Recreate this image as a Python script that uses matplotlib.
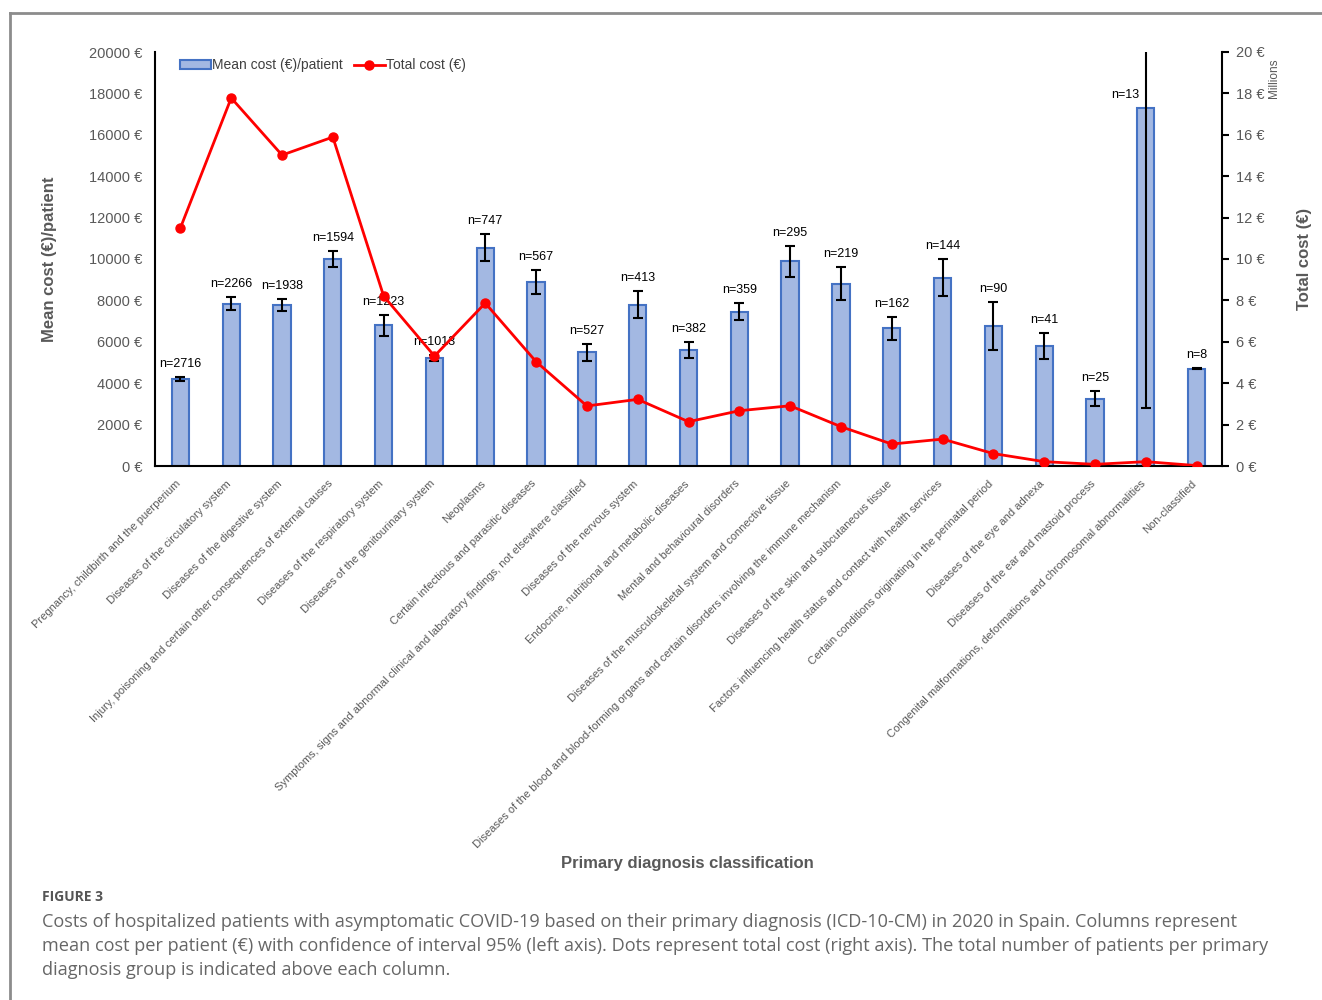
import matplotlib
matplotlib.use("Agg")
import matplotlib.pyplot as plt
import matplotlib.transforms as mtransforms
import numpy as np
from matplotlib.patches import Patch
from matplotlib.lines import Line2D

plt.rcParams['font.family'] = ['Liberation Sans', 'DejaVu Sans']

categories = [
    "Pregnancy, childbirth and the puerperium",
    "Diseases of the circulatory system",
    "Diseases of the digestive system",
    "Injury, poisoning and certain other consequences of external causes",
    "Diseases of the respiratory system",
    "Diseases of the genitourinary system",
    "Neoplasms",
    "Certain infectious and parasitic diseases",
    "Symptoms, signs and abnormal clinical and laboratory findings, not elsewhere classified",
    "Diseases of the nervous system",
    "Endocrine, nutritional and metabolic diseases",
    "Mental and behavioural disorders",
    "Diseases of the musculoskeletal system and connective tissue",
    "Diseases of the blood and blood-forming organs and certain disorders involving the immune mechanism",
    "Diseases of the skin and subcutaneous tissue",
    "Factors influencing health status and contact with health services",
    "Certain conditions originating in the perinatal period",
    "Diseases of the eye and adnexa",
    "Diseases of the ear and mastoid process",
    "Congenital malformations, deformations and chromosomal abnormalities",
    "Non-classified",
]
n_patients = [2716, 2266, 1938, 1594, 1223, 1013, 747, 567, 527, 413, 382,
              359, 295, 219, 162, 144, 90, 41, 25, 13, 8]
mean_cost = [4200, 7850, 7800, 10000, 6800, 5200, 10550, 8900, 5500, 7800, 5600,
             7450, 9900, 8800, 6650, 9100, 6750, 5800, 3250, 17300, 4700]
ci_half = [100, 300, 290, 380, 500, 150, 650, 570, 410, 660, 370,
           420, 750, 800, 550, 900, 1160, 630, 370, 14500, 20]
total_cost_millions = [11.5, 17.78, 15.02, 15.89, 8.21, 5.31, 7.87, 5.04, 2.90, 3.22, 2.14,
                       2.67, 2.91, 1.90, 1.06, 1.30, 0.60, 0.21, 0.08, 0.21, 0.02]
left_ticks = list(range(0, 20001, 2000))
right_ticks = list(range(0, 21, 2))

W, H = 1322, 1000
fig = plt.figure(figsize=(W / 100, H / 100), dpi=100)

# outer frame
fig.add_artist(Line2D([10 / W, 10 / W], [0, 1 - 13 / H], transform=fig.transFigure,
                      color='#8c8c8c', lw=2))
fig.add_artist(Line2D([10 / W, 1], [1 - 13 / H, 1 - 13 / H], transform=fig.transFigure,
                      color='#8c8c8c', lw=2))

AXW = 1222 - 155
ax = fig.add_axes([155 / W, 1 - 466 / H, AXW / W, (466 - 52) / H])
x = np.arange(len(categories))
bar_color = '#a3b8e2'
edge_color = '#4472c4'
ax.bar(x, mean_cost, width=0.34, color=bar_color, edgecolor=edge_color, linewidth=1.5, zorder=2)
ax.errorbar(x, mean_cost, yerr=ci_half, fmt='none', ecolor='black', elinewidth=1.5,
            capsize=3.5, capthick=1.5, zorder=3)
ax.set_xlim(-0.5, len(categories) - 0.5)
ax.set_ylim(0, 20000)
ax.set_yticks(left_ticks)
ax.set_yticklabels([f"{v} €" for v in left_ticks])
ax.tick_params(axis='y', length=0, pad=9, labelsize=10.5, labelcolor='#595959')
ax.set_xticks(x)
ax.set_xticklabels(categories, rotation=45, ha='right', va='top', rotation_mode='anchor',
                   fontsize=8, color='#595959')
ax.tick_params(axis='x', length=0, pad=9)
shift = mtransforms.ScaledTranslation(-5 / 100, 0, fig.dpi_scale_trans)
for lbl in ax.get_xticklabels():
    lbl.set_transform(lbl.get_transform() + shift)
for s in ['top', 'right']:
    ax.spines[s].set_visible(False)
ax.spines['left'].set_linewidth(1.5)
ax.spines['bottom'].set_linewidth(1.5)

for xi, m, e, n in zip(x, mean_cost, ci_half, n_patients):
    top = m + e
    dx = 0
    if top > 20000:
        top = m
        dx = -15
    ax.annotate(f"n={n}", (xi, top), xytext=(dx, 5), textcoords='offset points',
                ha='center', va='bottom', fontsize=9, color='black', zorder=5)

ax.set_ylabel("Mean cost (€)/patient", fontsize=12, fontweight='bold', color='#595959')
ax.yaxis.set_label_coords(-98 / AXW, 0.5)
ax.set_xlabel("Primary diagnosis classification", fontsize=12, fontweight='bold', color='#595959')
ax.xaxis.set_label_coords(0.499, -0.943)

ax2 = ax.twinx()
ax2.plot(x, total_cost_millions, color='#ff0000', lw=2, marker='o', markersize=6.5, zorder=4)
ax2.set_ylim(0, 20)
ax2.set_yticks(right_ticks)
ax2.set_yticklabels([f"{v} €" for v in right_ticks])
ax2.tick_params(axis='y', length=5, width=1.5, pad=5, labelsize=10.5, labelcolor='#595959', direction='out')
for s in ['top', 'left', 'bottom']:
    ax2.spines[s].set_visible(False)
ax2.spines['right'].set_linewidth(1.5)
ax2.set_ylabel("Total cost (€)", fontsize=12, fontweight='bold', color='#595959')
ax2.yaxis.set_label_coords(1 + (1297 - 1222) / AXW, 0.5)
fig.text(1274 / W, 1 - 78 / H, "Millions", rotation=90, ha='center', va='center',
         fontsize=8.5, color='#595959')

handles = [Patch(facecolor=bar_color, edgecolor=edge_color, linewidth=1.5),
           Line2D([], [], color='#ff0000', lw=2, marker='o', markersize=6.5)]
ax2.legend(handles, ["Mean cost (€)/patient", "Total cost (€)"], loc='upper left',
           bbox_to_anchor=(0.012, 1.015), ncol=2, frameon=False, fontsize=10,
           labelcolor='#404040', handlelength=2.2, handleheight=0.6, handletextpad=0.1,
           columnspacing=0.8)

fig.text(42 / W, 1 - 897 / H, "FIGURE 3", fontsize=10, color='#555555', fontweight='bold',
         family=['Open Sans', 'DejaVu Sans'], va='center')
caption = ("Costs of hospitalized patients with asymptomatic COVID-19 based on their primary diagnosis (ICD-10-CM) in 2020 in Spain. Columns represent\n"
           "mean cost per patient (€) with confidence of interval 95% (left axis). Dots represent total cost (right axis). The total number of patients per primary\n"
           "diagnosis group is indicated above each column.")
fig.text(42 / W, 1 - 913 / H, caption, fontsize=13.1, color='#666666', va='top',
         family=['Open Sans', 'DejaVu Sans'], linespacing=1.42)

fig.savefig("out.png", dpi=100)
